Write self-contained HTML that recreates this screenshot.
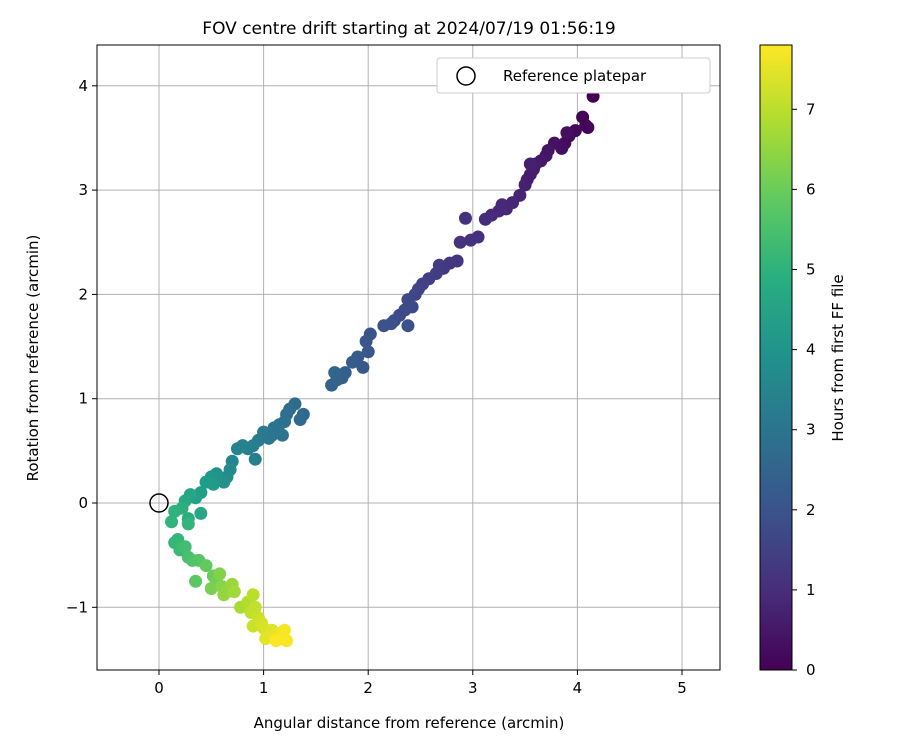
<!DOCTYPE html>
<html><head><meta charset="utf-8"><style>
body{margin:0;background:#fff;}
svg text{font-family:"DejaVu Sans","Liberation Sans",sans-serif;}
</style></head><body>
<svg id="chart" width="900" height="750" xmlns="http://www.w3.org/2000/svg">
<rect width="900" height="750" fill="#fff"/>
<g id="grid"></g>
<g id="points"></g>
<circle id="refpt" r="9" fill="none" stroke="#000" stroke-width="1.5"/>
<rect x="97" y="45" width="623" height="625" fill="none" stroke="#000" stroke-width="1"/>
<g id="axes"></g>
<text x="409" y="34" font-size="17" text-anchor="middle">FOV centre drift starting at 2024/07/19 01:56:19</text>
<text x="409" y="728" font-size="15" text-anchor="middle">Angular distance from reference (arcmin)</text>
<text transform="translate(38,358) rotate(-90)" font-size="15" text-anchor="middle">Rotation from reference (arcmin)</text>
<g>
<rect x="437" y="58" width="273" height="35" rx="3" fill="#fff" stroke="#ccc"/>
<circle cx="466" cy="76" r="9" fill="none" stroke="#000" stroke-width="1.5"/>
<text x="503" y="81" font-size="15">Reference platepar</text>
</g>
<defs><linearGradient id="vir" x1="0" y1="1" x2="0" y2="0">
<stop offset="0" stop-color="#440154"/><stop offset="0.125" stop-color="#472d7b"/><stop offset="0.25" stop-color="#3b528b"/><stop offset="0.375" stop-color="#2c728e"/><stop offset="0.5" stop-color="#21918c"/><stop offset="0.625" stop-color="#28ae80"/><stop offset="0.75" stop-color="#5ec962"/><stop offset="0.875" stop-color="#addc30"/><stop offset="1" stop-color="#fde725"/></linearGradient></defs>
<rect x="760" y="45" width="32" height="625" fill="url(#vir)" stroke="#000" stroke-width="1"/>
<g id="cbaxis"></g>
<text transform="translate(843,358) rotate(-90)" font-size="15" text-anchor="middle">Hours from first FF file</text>
</svg>
<script>
const xTicks=[0,1,2,3,4,5];
const yTicks=[-1,0,1,2,3,4];
const cTicks=[0,1,2,3,4,5,6,7];
const xs=[4.15,4.08,4.05,4.10,3.98,3.92,3.88,3.85,3.90,3.78,3.72,3.70,3.65,3.60,3.58,3.55,3.52,3.55,3.50,3.45,3.38,3.32,3.28,3.25,3.18,3.12,3.05,2.98,2.93,2.88,2.85,2.78,2.72,2.68,2.65,2.58,2.52,2.48,2.45,2.38,2.42,2.35,2.30,2.25,2.22,2.38,2.15,2.02,1.98,2.00,1.95,1.90,1.85,1.78,1.75,1.70,1.65,1.68,1.38,1.35,1.30,1.25,1.22,1.20,1.15,1.18,1.10,1.08,1.05,1.00,0.95,0.90,0.92,0.85,0.80,0.75,0.70,0.68,0.65,0.62,0.55,0.50,0.52,0.45,0.40,0.35,0.40,0.30,0.25,0.28,0.22,0.15,0.12,0.28,0.18,0.15,0.20,0.25,0.28,0.32,0.38,0.35,0.45,0.52,0.55,0.50,0.58,0.60,0.65,0.62,0.70,0.72,0.78,0.85,0.90,0.88,0.92,0.95,0.90,0.98,1.00,1.05,1.08,1.02,1.10,1.15,1.18,1.20,1.22,1.12];
const ys=[3.90,3.62,3.70,3.60,3.57,3.52,3.45,3.40,3.55,3.45,3.38,3.33,3.28,3.25,3.20,3.15,3.10,3.25,3.05,2.95,2.88,2.82,2.86,2.80,2.76,2.72,2.55,2.52,2.73,2.50,2.32,2.30,2.25,2.28,2.20,2.15,2.10,2.05,2.00,1.95,1.88,1.85,1.80,1.75,1.72,1.70,1.70,1.62,1.55,1.45,1.30,1.40,1.35,1.25,1.20,1.18,1.13,1.25,0.85,0.80,0.95,0.90,0.85,0.78,0.75,0.65,0.72,0.65,0.62,0.68,0.60,0.55,0.42,0.52,0.55,0.52,0.40,0.32,0.25,0.20,0.28,0.25,0.18,0.20,0.10,0.05,-0.10,0.08,0.02,-0.15,-0.05,-0.08,-0.18,-0.20,-0.35,-0.38,-0.45,-0.42,-0.52,-0.55,-0.55,-0.75,-0.60,-0.70,-0.75,-0.82,-0.68,-0.80,-0.85,-0.88,-0.78,-0.85,-1.00,-0.95,-0.88,-1.05,-1.00,-1.10,-1.18,-1.15,-1.20,-1.25,-1.22,-1.30,-1.28,-1.25,-1.30,-1.22,-1.32,-1.32];
const ts=[0.0,0.05,0.08,0.1,0.15,0.2,0.25,0.3,0.3,0.35,0.4,0.45,0.5,0.55,0.6,0.62,0.65,0.68,0.7,0.75,0.8,0.85,0.88,0.9,0.95,1.0,1.05,1.1,1.1,1.15,1.2,1.25,1.3,1.35,1.4,1.45,1.5,1.55,1.6,1.65,1.7,1.75,1.8,1.85,1.9,1.9,1.95,2.0,2.05,2.1,2.15,2.2,2.25,2.3,2.35,2.4,2.45,2.5,2.6,2.65,2.7,2.75,2.8,2.85,2.9,2.95,3.0,3.05,3.1,3.15,3.2,3.3,3.35,3.4,3.45,3.5,3.6,3.7,3.8,3.9,4.0,4.1,4.2,4.3,4.35,4.45,4.6,4.6,4.7,4.8,4.9,5.0,5.05,5.1,5.15,5.2,5.3,5.4,5.5,5.6,5.7,5.8,5.9,6.0,6.1,6.2,6.3,6.4,6.5,6.55,6.6,6.7,6.8,6.9,7.0,7.05,7.1,7.2,7.2,7.3,7.35,7.4,7.45,7.5,7.55,7.6,7.65,7.7,7.75,7.8];
const NS="http://www.w3.org/2000/svg";
const X=v=>159+v*104.6, Y=v=>503-v*104.3, C=v=>670-v*80.1, TMAX=7.8;
const vir=[[68,1,84],[72,40,120],[62,74,137],[49,104,142],[38,130,142],[31,158,137],[53,183,121],[109,205,89],[180,222,44],[253,231,37]];
function col(t){let f=Math.max(0,Math.min(1,t/TMAX))*(vir.length-1),i=Math.min(Math.floor(f),vir.length-2),r=f-i;
return 'rgb('+vir[i].map((c,k)=>Math.round(c+(vir[i+1][k]-c)*r)).join(',')+')';}
function mk(tag,attrs,parent,txt){const e=document.createElementNS(NS,tag);for(const k in attrs)e.setAttribute(k,attrs[k]);if(txt!==undefined)e.textContent=txt;parent.appendChild(e);return e;}
const grid=document.getElementById('grid'),axes=document.getElementById('axes'),pts=document.getElementById('points'),cb=document.getElementById('cbaxis');
xTicks.forEach(v=>{const x=X(v);
const g=mk('line',{x1:x,x2:x,y1:45,y2:670,stroke:'#b0b0b0','stroke-width':1},grid);
const t=mk('line',{x1:x,x2:x,y1:670,y2:675,stroke:'#000'},axes);
const l=mk('text',{x:x,y:693,'font-size':15,'text-anchor':'middle'},axes,String(v));});
yTicks.forEach(v=>{const y=Y(v);
const g=mk('line',{x1:97,x2:720,y1:y,y2:y,stroke:'#b0b0b0','stroke-width':1},grid);
const t=mk('line',{x1:92,x2:97,y1:y,y2:y,stroke:'#000'},axes);
const l=mk('text',{x:88,y:y+5,'font-size':15,'text-anchor':'end'},axes,v<0?'\u2212'+(-v):String(v));});
cTicks.forEach(v=>{const y=C(v);
const t=mk('line',{x1:792,x2:797,y1:y,y2:y,stroke:'#000'},cb);
const l=mk('text',{x:806,y:y+5,'font-size':15},cb,String(v));});
xs.forEach((x,i)=>{const c=mk('circle',{cx:X(x),cy:Y(ys[i]),r:6.5,fill:col(ts[i])},pts);

});
const rp=document.getElementById('refpt');rp.setAttribute('cx',X(0));rp.setAttribute('cy',Y(0));
</script>
</body></html>
